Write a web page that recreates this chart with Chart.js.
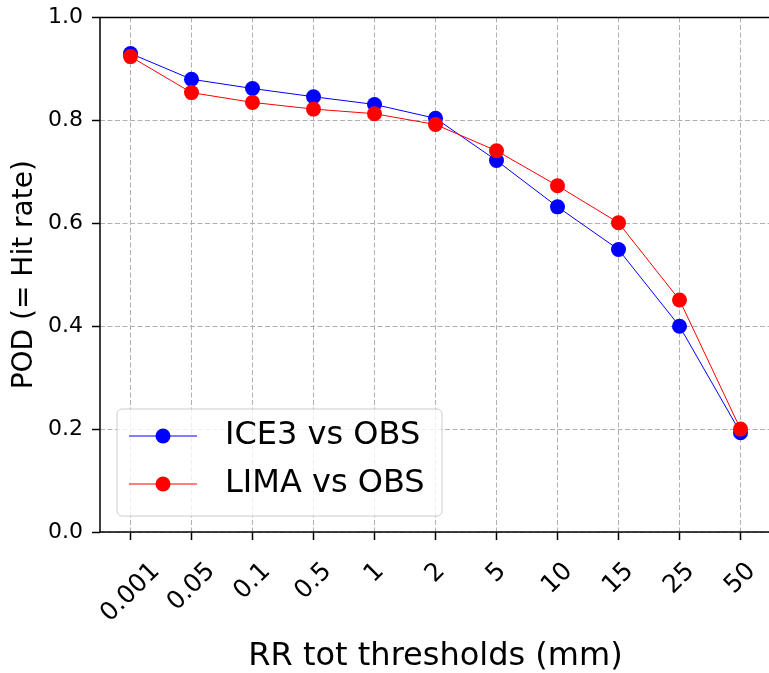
<!DOCTYPE html>
<html>
<head>
<meta charset="utf-8">
<script src="https://cdn.jsdelivr.net/npm/chart.js@4"></script>
<style>
  body { margin: 0; background: #fff; }
  #wrap { width: 769px; height: 673px; overflow: hidden; }
</style>
</head>
<body>
<div id="wrap"><canvas id="podChart" width="790" height="673"></canvas></div>
<script>
const thresholds = ['0.001', '0.05', '0.1', '0.5', '1', '2', '5', '10', '15', '25', '50'];
const ice3Pod = [0.930, 0.880, 0.862, 0.846, 0.831, 0.804, 0.722, 0.632, 0.549, 0.400, 0.193];
const limaPod = [0.924, 0.854, 0.835, 0.822, 0.813, 0.792, 0.741, 0.673, 0.601, 0.451, 0.200];
const yTicks = [0, 0.2, 0.4, 0.6, 0.8, 1.0];

const FONT = "'DejaVu Sans', sans-serif";

// matplotlib style: rotated x labels centred under each tick
const rotatedTicks = {
  id: 'rotatedTicks',
  afterDraw(chart) {
    const ctx = chart.ctx;
    const xs = chart.scales.x;
    const size = 25;
    const top = 557;
    ctx.save();
    ctx.font = size + 'px ' + FONT;
    ctx.fillStyle = '#000';
    ctx.textAlign = 'center';
    ctx.textBaseline = 'middle';
    xs.ticks.forEach((t, i) => {
      const label = xs.getLabelForValue(t.value);
      const w = ctx.measureText(label).width;
      const h = size * 1.164;
      const cx = xs.getPixelForTick(i);
      const cy = top + (w + h) / (2 * Math.SQRT2);
      ctx.save();
      ctx.translate(cx, cy);
      ctx.rotate(-Math.PI / 4);
      ctx.fillText(label, 0, 0);
      ctx.restore();
    });
    ctx.restore();
  }
};

// axes frame (left, bottom, top, right)
const spines = {
  id: 'spines',
  afterDatasetsDraw(chart) {
    const { ctx, chartArea: a } = chart;
    ctx.save();
    ctx.strokeStyle = '#000';
    ctx.lineWidth = 1.5;
    ctx.strokeRect(a.left, a.top, a.right - a.left, a.bottom - a.top);
    ctx.restore();
  }
};

// legend box in lower left of the plot
const boxLegend = {
  id: 'boxLegend',
  afterDraw(chart) {
    const ctx = chart.ctx;
    const x = 117, y = 409, w = 325, h = 107, r = 5;
    ctx.save();
    ctx.beginPath();
    ctx.roundRect(x, y, w, h, r);
    ctx.fillStyle = 'rgba(255,255,255,0.8)';
    ctx.fill();
    ctx.strokeStyle = '#cccccc';
    ctx.lineWidth = 1;
    ctx.stroke();
    chart.data.datasets.forEach((ds, i) => {
      const rowY = 436 + i * 48;
      ctx.strokeStyle = ds.borderColor;
      ctx.lineWidth = 1;
      ctx.beginPath();
      ctx.moveTo(129, rowY);
      ctx.lineTo(197, rowY);
      ctx.stroke();
      ctx.fillStyle = ds.backgroundColor;
      ctx.beginPath();
      ctx.arc(163, rowY, 7.5, 0, Math.PI * 2);
      ctx.fill();
      ctx.fillStyle = '#000';
      ctx.font = '32px ' + FONT;
      ctx.textAlign = 'left';
      ctx.textBaseline = 'middle';
      ctx.fillText(ds.label, 225, rowY);
    });
    ctx.restore();
  }
};

const ctx = document.getElementById('podChart').getContext('2d');
new Chart(ctx, {
  type: 'line',
  data: {
    labels: thresholds,
    datasets: [
      {
        label: 'ICE3 vs OBS',
        data: ice3Pod,
        borderColor: '#0000ff',
        backgroundColor: '#0000ff',
        borderWidth: 1,
        pointRadius: 7.5,
        pointBorderWidth: 0,
        pointBackgroundColor: '#0000ff',
        order: 1
      },
      {
        label: 'LIMA vs OBS',
        data: limaPod,
        borderColor: '#ff0000',
        backgroundColor: '#ff0000',
        borderWidth: 1,
        pointRadius: 7.5,
        pointBorderWidth: 0,
        pointBackgroundColor: '#ff0000',
        order: 0
      }
    ]
  },
  options: {
    responsive: false,
    animation: false,
    devicePixelRatio: 1,
    layout: { padding: { left: 0, top: 17.5, right: 19, bottom: 0 } },
    plugins: {
      legend: { display: false },
      tooltip: { enabled: false }
    },
    scales: {
      x: {
        type: 'category',
        offset: true,
        grid: {
          color: '#b0b0b0',
          lineWidth: 1,
          tickLength: 8,
          tickColor: '#000',
          tickWidth: 1.5,
          tickBorderDash: []
        },
        border: { display: false, dash: [5, 2.5] },
        ticks: { display: false },
        title: {
          display: true,
          text: 'RR tot thresholds (mm)',
          color: '#000',
          font: { family: FONT, size: 32, lineHeight: 1 },
          padding: { top: 0, bottom: 0 }
        },
        afterFit: scale => {
          scale.height = 141;
          scale.paddingLeft = 0;
          scale.paddingRight = 0;
        }
      },
      y: {
        min: 0,
        max: 1,
        afterBuildTicks: scale => { scale.ticks = yTicks.map(v => ({ value: v })); },
        grid: {
          color: '#b0b0b0',
          lineWidth: 1,
          tickLength: 8,
          tickColor: '#000',
          tickWidth: 1.5,
          tickBorderDash: []
        },
        border: { display: false, dash: [5, 2.5] },
        ticks: {
          color: '#000',
          padding: 9,
          font: { family: FONT, size: 22 },
          callback: v => v.toFixed(1)
        },
        title: {
          display: true,
          text: 'POD (= Hit rate)',
          color: '#000',
          font: { family: FONT, size: 28, lineHeight: 1 },
          padding: { top: 11, bottom: 0 }
        },
        afterFit: scale => {
          scale.width = 100;
          scale.paddingTop = 0;
          scale.paddingBottom = 0;
        }
      }
    }
  },
  plugins: [rotatedTicks, spines, boxLegend]
});
</script>
</body>
</html>
